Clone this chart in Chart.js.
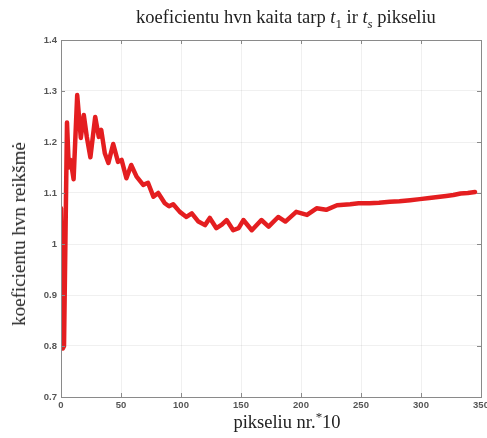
<!DOCTYPE html>
<html>
<head>
<meta charset="utf-8">
<script src="https://cdn.jsdelivr.net/npm/chart.js@4/dist/chart.umd.min.js"></script>
<style>
  html, body { margin: 0; padding: 0; background: #fff; }
  #wrap { position: relative; width: 487px; height: 438px; overflow: hidden; }
  #chart { position: absolute; left: 0; top: 0; }
  .lbl { position: absolute; font-family: "Liberation Serif", "DejaVu Serif", serif; color: #222; white-space: nowrap; }
  #title { font-size: 18.5px; left: 286px; top: 7px; transform: translateX(-50%); }
  #xlab { font-size: 18.5px; left: 287px; top: 409px; transform: translateX(-50%); }
  #ylab { font-size: 19px; left: 19px; top: 234px; transform: translate(-50%, -50%) rotate(-90deg); }
  sub, sup { font-size: 70%; }
</style>
</head>
<body>
<div id="wrap">
  <canvas id="chart" width="487" height="438"></canvas>
  <div id="title" class="lbl">koeficientu hvn kaita tarp <i>t</i><sub>1</sub> ir <i>t<sub>s</sub></i> pikseliu</div>
  <div id="xlab" class="lbl">pikseliu nr.<sup>*</sup>10</div>
  <div id="ylab" class="lbl">koeficientu hvn reikšmė</div>
</div>
<script>
// ===== Data =====
const xVals = [0, 1.5, 2.5, 5, 6.5, 8, 10.5, 13.5, 16.5, 19, 21.5, 24.5, 28.5, 31.5, 33.5, 36.5,
  39.5, 43.5, 47.5, 50.5, 54.5, 58.5, 63, 68.5, 72.5, 77, 81, 86.5, 90, 93.5, 99, 104.5,
  109, 114.5, 120, 124, 129.5, 134, 138, 143.5, 148, 152, 159, 167, 173, 181, 187, 196,
  205, 213, 221, 230, 241, 248, 257, 265, 274, 282, 291, 299, 307, 314, 321, 327, 333, 339, 345];
const yVals = [1.07, 0.795, 0.80, 1.238, 1.15, 1.165, 1.127, 1.292, 1.208, 1.253, 1.21, 1.17, 1.249, 1.21, 1.224, 1.178,
  1.159, 1.196, 1.161, 1.165, 1.129, 1.155, 1.132, 1.116, 1.12, 1.093, 1.10, 1.08, 1.074, 1.078, 1.063, 1.053,
  1.06, 1.044, 1.037, 1.051, 1.031, 1.038, 1.047, 1.027, 1.031, 1.047, 1.027, 1.047, 1.034, 1.053, 1.044, 1.063,
  1.057, 1.07, 1.067, 1.076, 1.078, 1.08, 1.08, 1.081, 1.083, 1.084, 1.086, 1.088, 1.09, 1.092, 1.094, 1.096, 1.099, 1.100, 1.102];
const xTicks = [0, 50, 100, 150, 200, 250, 300, 350];
const yTicks = [0.7, 0.8, 0.9, 1.0, 1.1, 1.2, 1.3, 1.4];

const points = xVals.map((x, i) => ({ x: x, y: yVals[i] }));

// ===== Box + inward tick marks (matlab style) =====
const boxPlugin = {
  id: 'box',
  afterDatasetsDraw(chart) {
    const { ctx, chartArea: a, scales } = chart;
    ctx.save();
    ctx.strokeStyle = '#8a8a8a';
    ctx.lineWidth = 1;
    ctx.strokeRect(a.left + 0.5, a.top + 0.5, a.right - a.left, a.bottom - a.top);
    ctx.beginPath();
    xTicks.forEach(t => {
      const px = Math.round(scales.x.getPixelForValue(t)) + 0.5;
      ctx.moveTo(px, a.bottom); ctx.lineTo(px, a.bottom - 4);
      ctx.moveTo(px, a.top); ctx.lineTo(px, a.top + 4);
    });
    yTicks.forEach(t => {
      const py = Math.round(scales.y.getPixelForValue(t)) + 0.5;
      ctx.moveTo(a.left, py); ctx.lineTo(a.left + 4, py);
      ctx.moveTo(a.right, py); ctx.lineTo(a.right - 4, py);
    });
    ctx.stroke();
    ctx.restore();
  }
};

const tickFont = { family: 'Liberation Sans, Arial, sans-serif', size: 9.5, weight: 'bold' };

new Chart(document.getElementById('chart'), {
  type: 'line',
  data: {
    datasets: [{
      data: points,
      borderColor: 'rgb(228, 30, 32)',
      borderWidth: 4.5,
      pointRadius: 0,
      fill: false,
      tension: 0,
      borderJoinStyle: 'round',
      borderCapStyle: 'round'
    }]
  },
  options: {
    responsive: false,
    animation: false,
    layout: { padding: { top: 40, right: 6, left: 0, bottom: 0 } },
    plugins: { legend: { display: false }, title: { display: false }, tooltip: { enabled: false } },
    scales: {
      x: {
        type: 'linear', min: 0, max: 350,
        afterBuildTicks: s => { s.ticks = xTicks.map(v => ({ value: v })); },
        afterFit: s => { s.height = 41; s.paddingLeft = 0; s.paddingRight = 0; },
        ticks: { color: '#555', font: tickFont, padding: 3, maxRotation: 0, callback: v => String(v) },
        grid: { color: 'rgba(0,0,0,0.06)', drawTicks: false },
        border: { display: false }
      },
      y: {
        type: 'linear', min: 0.7, max: 1.4,
        afterBuildTicks: s => { s.ticks = yTicks.map(v => ({ value: v })); },
        afterFit: s => { s.width = 61; s.paddingTop = 0; s.paddingBottom = 0; },
        ticks: { color: '#555', font: tickFont, padding: 4, callback: v => String(+v.toFixed(1)) },
        grid: { color: 'rgba(0,0,0,0.06)', drawTicks: false },
        border: { display: false }
      }
    }
  },
  plugins: [boxPlugin]
});
</script>
</body>
</html>
